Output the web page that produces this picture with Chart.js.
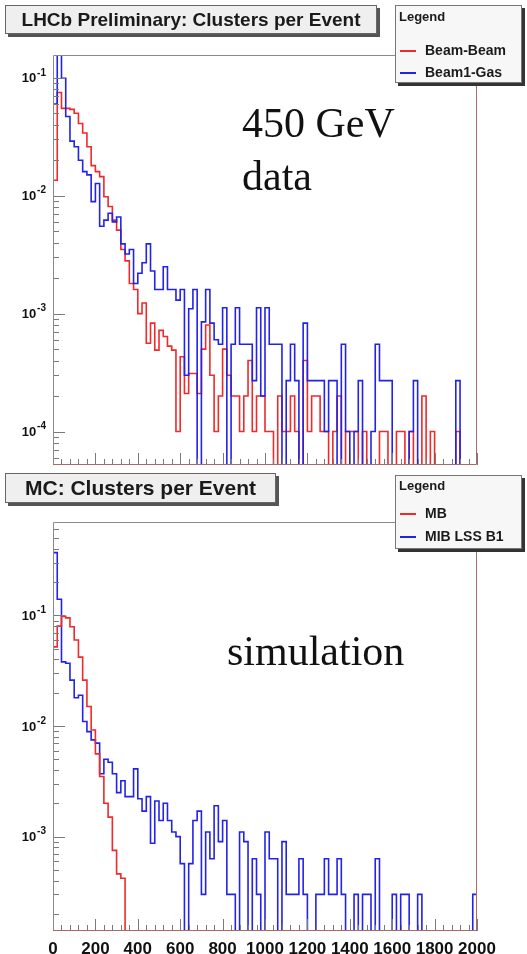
<!DOCTYPE html>
<html>
<head>
<meta charset="utf-8">
<script src="https://cdn.jsdelivr.net/npm/chart.js@4.4.1/dist/chart.umd.min.js"></script>
<style>
  body { margin: 0; background: #fff; width: 527px; height: 954px; position: relative; overflow: hidden; }
  canvas { position: absolute; left: 0; }
  #top { top: 0; }
  #bot { top: 470px; }
  .title {
    position: absolute; box-sizing: border-box; border: 1px solid #666; background: #efefef;
    box-shadow: 3px 3px 0 #555; font: bold 19px "Liberation Sans", Arial, sans-serif; color: #1a1a1a;
    text-align: center; white-space: nowrap;
  }
  .legend {
    position: absolute; box-sizing: border-box; border: 1px solid #777; background: #f7f7f7;
    box-shadow: 3px 3px 0 #333; font: bold 14px "Liberation Sans", Arial, sans-serif; color: #1a1a1a;
  }
  .legend .head { position: absolute; left: 3px; font-size: 13px; line-height: 14px; }
  .legend .entry { position: absolute; left: 4px; line-height: 16px; white-space: nowrap; }
  .legend .entry i { display: inline-block; width: 16px; height: 2px; vertical-align: middle; margin-right: 9px; }
  .note { position: absolute; font: 42px "Liberation Serif", "Times New Roman", serif; line-height: 42px; color: #111; white-space: nowrap; }
</style>
</head>
<body>
<canvas id="top" width="527" height="470"></canvas>
<canvas id="bot" width="527" height="484"></canvas>

<div class="title" style="left:5px; top:5px; width:372px; height:29px; line-height:27px;">LHCb Preliminary: Clusters per Event</div>
<div class="legend" style="left:395px; top:5px; width:127px; height:78px;">
  <div class="head" style="top:4px;">Legend</div>
  <div class="entry" style="top:36px;"><i style="background:#ee2a2a"></i><span id="lt0"></span></div>
  <div class="entry" style="top:58px;"><i style="background:#2323e8"></i><span id="lt1"></span></div>
</div>
<div class="note" style="left:242px; top:102px;">450 GeV</div>
<div class="note" style="left:242px; top:155px;">data</div>

<div class="title" style="left:5px; top:473px; width:271px; height:30px; line-height:28px; font-size:21px;">MC: Clusters per Event</div>
<div class="legend" style="left:395px; top:475px; width:127px; height:74px;">
  <div class="head" style="top:3px;">Legend</div>
  <div class="entry" style="top:29px;"><i style="background:#ee2a2a"></i><span id="lb0"></span></div>
  <div class="entry" style="top:52px;"><i style="background:#2323e8"></i><span id="lb1"></span></div>
</div>
<div class="note" style="left:227px; top:630px;">simulation</div>

<script>
// histogram: 100 bins of 20 clusters, 0..2000
const binWidth = 20;
const xTicks = [0, 200, 400, 600, 800, 1000, 1200, 1400, 1600, 1800, 2000];
const xTickLabels = ['0', '200', '400', '600', '800', '1000', '1200', '1400', '1600', '1800', '2000'];

const topLabels = ['Beam-Beam', 'Beam1-Gas'];
const topTicks = [1e-4, 1e-3, 1e-2, 1e-1];
const topTickExps = ['-4', '-3', '-2', '-1'];

const beamBeam = [
    0.0135, 0.075, 0.055, 0.055, 0.054, 0.050, 0.041, 0.034, 0.026, 0.018,
    0.016, 0.0145, 0.0098, 0.0081, 0.0062, 0.0051, 0.0035, 0.0028, 0.0018, 0.0016,
    0.0010, 0.00123, 0.00056, 0.00083, 0.00049, 0.00072, 0.00064, 0.00053, 0.00049, 0.0001,
    0.00043, 0.00021, 0.00031, 0.00031, 0.00021, 0.0005, 0.0008, 0.0003, 0.0001, 0.0002,
    0.0005, 0.0003, 0.0002, 0.0002, 0.0001, 0.0002, 0.0004, 0.0001, 0.0002, 0.0002,
    0.0001, 0.0001, 0, 0.0002, 0.0001, 0.0001, 0.0002, 0.0001, 0, 0.0004,
    0.0001, 0.0002, 0.0002, 0.0001, 0.0001, 0, 0.0001, 0.0002, 0, 0.0001,
    0.0001, 0.0001, 0, 0.0001, 0, 0, 0, 0.0001, 0.0001, 0,
    0, 0.0001, 0.0001, 0, 0.0001, 0, 0, 0.0002, 0, 0.0001,
    0, 0, 0, 0, 0, 0.0001, 0, 0, 0, 0
];
const beam1Gas = [
    0.060, 0.18, 0.099, 0.047, 0.029, 0.026, 0.020, 0.016, 0.015, 0.0089,
    0.0127, 0.0055, 0.0062, 0.0071, 0.0060, 0.0066, 0.0039, 0.0032, 0.0035, 0.0018,
    0.0022, 0.0027, 0.0039, 0.0023, 0.0016, 0.0016, 0.0025, 0.0016, 0.0016, 0.0013,
    0.0016, 0.0003, 0.0011, 0.0016, 0, 0.00085, 0.0016, 0.00083, 0.0006, 0.00055,
    0.00112, 0, 0.00055, 0.00112, 0.00055, 0.00055, 0.00055, 0.00027, 0.00112, 0.0002,
    0.00112, 0.00055, 0.00055, 0.00055, 0, 0.00027, 0.00055, 0.00027, 0, 0.00083,
    0.00027, 0.00027, 0.00027, 0.00027, 0.0001, 0.00027, 0.00027, 0, 0.00055, 0.0001,
    0, 0.0001, 0.00027, 0, 0, 0.0001, 0.00055, 0.00027, 0.00027, 0.00027,
    0, 0, 0, 0, 0.0001, 0.00027, 0, 0, 0, 0,
    0, 0, 0, 0, 0, 0.00027, 0, 0, 0, 0
];

const botLabels = ['MB', 'MIB LSS B1'];
const botTicks = [1e-3, 1e-2, 1e-1];
const botTickExps = ['-3', '-2', '-1'];

const minBias = [
    0.052, 0.080, 0.098, 0.095, 0.079, 0.060, 0.042, 0.026, 0.015, 0.0092,
    0.0056, 0.0035, 0.0020, 0.0015, 0.00075, 0.00046, 0.00042, 0, 0, 0,
    0, 0, 0, 0, 0, 0, 0, 0, 0, 0,
    0, 0, 0, 0, 0, 0, 0, 0, 0, 0,
    0, 0, 0, 0, 0, 0, 0, 0, 0, 0,
    0, 0, 0, 0, 0, 0, 0, 0, 0, 0,
    0, 0, 0, 0, 0, 0, 0, 0, 0, 0,
    0, 0, 0, 0, 0, 0, 0, 0, 0, 0,
    0, 0, 0, 0, 0, 0, 0, 0, 0, 0,
    0, 0, 0, 0, 0, 0, 0, 0, 0, 0
];
const mibLssB1 = [
    0.37, 0.14, 0.038, 0.037, 0.026, 0.018, 0.019, 0.011, 0.0089, 0.0075,
    0.0070, 0.0037, 0.0050, 0.0047, 0.0037, 0.0025, 0.0032, 0.0023, 0.0023, 0.0041,
    0.0022, 0.0017, 0.0023, 0.00087, 0.0021, 0.0014, 0.0020, 0.0014, 0.0011, 0.0010,
    0.00057, 0, 0.00057, 0.0014, 0.0017, 0.0003, 0.0011, 0.00063, 0.0019, 0.0009,
    0.0014, 0.0003, 0.0003, 0, 0.0011, 0.0009, 0, 0.00063, 0.0003, 0,
    0.0011, 0.00063, 0.00063, 0, 0.0009, 0.0003, 0.0003, 0.0003, 0.00063, 0.0003,
    0, 0, 0.0003, 0.0003, 0.00063, 0.0003, 0.0003, 0.00063, 0.0003, 0,
    0, 0.0003, 0, 0.0003, 0.0003, 0, 0.00063, 0, 0, 0,
    0.0003, 0, 0.0003, 0.0003, 0, 0, 0.0003, 0, 0, 0,
    0, 0, 0, 0, 0, 0, 0, 0, 0, 0.0003
];

document.getElementById('lt0').textContent = topLabels[0];
document.getElementById('lt1').textContent = topLabels[1];
document.getElementById('lb0').textContent = botLabels[0];
document.getElementById('lb1').textContent = botLabels[1];

const RED = '#ee2a2a';
const BLUE = '#2323e8';
const FONT = '"Liberation Sans", Arial, sans-serif';

// step points: empty bins go below the axis so the line drops to the frame
function histPoints(values, floor) {
    const pts = [{ x: 0, y: floor }];
    values.forEach((v, i) => pts.push({ x: i * binWidth, y: v > 0 ? v : floor }));
    pts.push({ x: values.length * binWidth, y: values[values.length - 1] || floor });
    pts.push({ x: values.length * binWidth, y: floor });
    return pts;
}

// ROOT style frame, inside ticks and 10^n labels
const frameTicks = {
    id: 'frameTicks',
    afterDatasetsDraw(chart, args, opts) {
        const { ctx, chartArea: a, scales: { x, y } } = chart;
        ctx.save();
        ctx.lineWidth = 1;
        ctx.strokeStyle = '#7a7a7a';
        ctx.beginPath();
        const lo = Math.floor(Math.log10(y.min)), hi = Math.ceil(Math.log10(y.max));
        for (let d = lo; d <= hi; d++) {
            for (let k = 1; k < 10; k++) {
                const v = k * Math.pow(10, d);
                if (v < y.min || v > y.max) continue;
                const py = Math.round(y.getPixelForValue(v)) + 0.5;
                ctx.moveTo(a.left, py);
                ctx.lineTo(a.left + (k === 1 ? 12 : 6), py);
            }
        }
        for (let v = x.min; v <= x.max; v += 40) {
            const px = Math.round(x.getPixelForValue(v)) + 0.5;
            ctx.moveTo(px, a.bottom);
            ctx.lineTo(px, a.bottom - (v % 200 === 0 ? 12 : 6));
        }
        ctx.stroke();

        ctx.strokeStyle = '#8a8a8a';
        ctx.beginPath();
        ctx.moveTo(a.left + 0.5, a.bottom);
        ctx.lineTo(a.left + 0.5, a.top + 0.5);
        ctx.lineTo(a.right, a.top + 0.5);
        ctx.stroke();
        ctx.strokeStyle = '#a86a6a';
        ctx.beginPath();
        ctx.moveTo(a.left, a.bottom - 0.5);
        ctx.lineTo(a.right - 0.5, a.bottom - 0.5);
        ctx.lineTo(a.right - 0.5, a.top);
        ctx.stroke();

        // y labels: "10" with a raised exponent
        ctx.fillStyle = '#111';
        ctx.textBaseline = 'middle';
        ctx.textAlign = 'right';
        opts.ticks.forEach((v, i) => {
            const py = y.getPixelForValue(v);
            ctx.font = 'bold 10px ' + FONT;
            const ew = ctx.measureText(opts.exps[i]).width;
            ctx.fillText(opts.exps[i], a.left - 7, py - 5);
            ctx.font = 'bold 13px ' + FONT;
            ctx.fillText('10', a.left - 8 - ew, py + 1);
        });
        ctx.restore();
    }
};

function makePanel(id, opts) {
    return new Chart(document.getElementById(id), {
        type: 'line',
        data: {
            datasets: [
                {
                    label: opts.labels[0], data: histPoints(opts.red, opts.min / 10),
                    borderColor: RED, borderWidth: 1.6, pointRadius: 0, stepped: true, order: opts.redOrder
                },
                {
                    label: opts.labels[1], data: histPoints(opts.blue, opts.min / 10),
                    borderColor: BLUE, borderWidth: 1.6, pointRadius: 0, stepped: true, order: 1 - opts.redOrder
                }
            ]
        },
        options: {
            responsive: false,
            animation: false,
            layout: { padding: { top: opts.padTop, right: 50, left: 0, bottom: 0 } },
            scales: {
                x: {
                    type: 'linear', min: 0, max: 2000,
                    grid: { display: false }, border: { display: false },
                    afterBuildTicks: s => { s.ticks = xTicks.map(v => ({ value: v })); },
                    afterFit: s => { s.height = opts.xHeight; },
                    ticks: {
                        display: opts.xLabels, padding: 0, maxRotation: 0, autoSkip: false, color: '#111',
                        font: { family: FONT, size: 17, weight: 'bold' },
                        callback: v => xTickLabels[xTicks.indexOf(v)]
                    }
                },
                y: {
                    type: 'logarithmic', min: opts.min, max: opts.max,
                    grid: { display: false }, border: { display: false },
                    afterBuildTicks: s => { s.ticks = opts.ticks.map(v => ({ value: v })); },
                    afterFit: s => { s.width = 53; },
                    ticks: { display: false }
                }
            },
            plugins: {
                legend: { display: false },
                tooltip: { enabled: false },
                frameTicks: { ticks: opts.ticks, exps: opts.exps }
            }
        },
        plugins: [frameTicks]
    });
}

makePanel('top', {
    labels: topLabels, red: beamBeam, blue: beam1Gas, redOrder: 1,
    min: 5.2e-5, max: 0.156, ticks: topTicks, exps: topTickExps,
    padTop: 55, xHeight: 5, xLabels: false
});
makePanel('bot', {
    labels: botLabels, red: minBias, blue: mibLssB1, redOrder: 0,
    min: 1.4e-4, max: 0.70, ticks: botTicks, exps: botTickExps,
    padTop: 52, xHeight: 23, xLabels: true
});
</script>
</body>
</html>
